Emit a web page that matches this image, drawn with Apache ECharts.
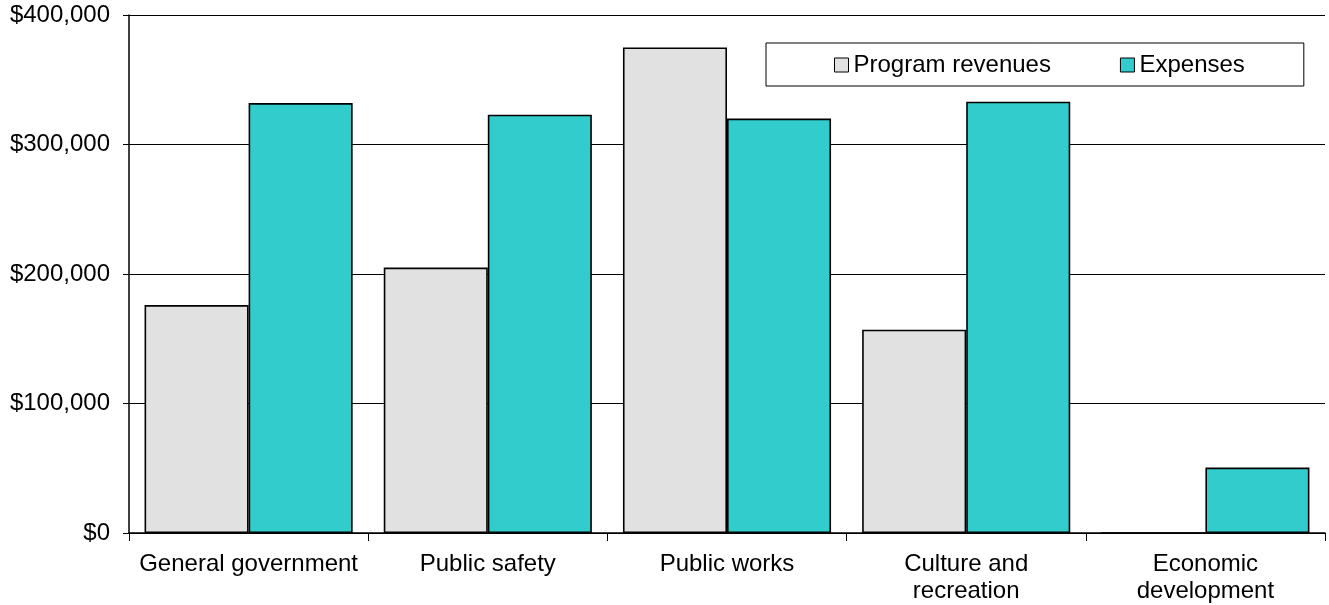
<!DOCTYPE html>
<html>
<head>
<meta charset="utf-8">
<script src="https://cdn.jsdelivr.net/npm/echarts@6/dist/echarts.min.js"></script>
<style>
  html, body { margin: 0; padding: 0; background: #fff; }
  #main { width: 1329px; height: 605px; }
</style>
</head>
<body>
<div id="main"></div>
<script>
const categories = ['General government', 'Public safety', 'Public works', 'Culture and\nrecreation', 'Economic\ndevelopment'];
const programRevenues = [176000, 205000, 375000, 157000, 0];
const expenses = [332000, 323000, 320000, 333000, 50500];
const yTicks = [0, 100000, 200000, 300000, 400000];

const FONT = 'Liberation Sans, Arial, sans-serif';

const chart = echarts.init(document.getElementById('main'));

var option = {
  backgroundColor: '#fff',
  animation: false,
  grid: { left: 129, right: 4, top: 15, bottom: 72 },
  legend: {
    left: 766,
    top: 43,
    padding: [10, 59, 9, 68],
    backgroundColor: '#fff',
    borderColor: '#000',
    borderWidth: 1,
    icon: 'rect',
    itemWidth: 14,
    itemHeight: 14,
    itemGap: 69,
    textStyle: { fontFamily: FONT, fontSize: 24, color: '#000' },
    itemStyle: { borderColor: '#000', borderWidth: 1 },
    data: ['Program revenues', 'Expenses']
  },
  xAxis: {
    type: 'category',
    data: categories,
    axisLine: { lineStyle: { color: '#000', width: 1.5 } },
    axisTick: { show: true, length: 8, lineStyle: { color: '#000' } },
    axisLabel: {
      fontFamily: FONT, fontSize: 24, color: '#000',
      margin: 18, lineHeight: 27, interval: 0
    }
  },
  yAxis: {
    type: 'value',
    min: yTicks[0],
    max: yTicks[yTicks.length - 1],
    interval: 100000,
    axisLine: { show: true, lineStyle: { color: '#000', width: 1.5 } },
    axisTick: { show: true, length: 6, lineStyle: { color: '#000' } },
    splitLine: { show: true, lineStyle: { color: '#000', width: 1 } },
    axisLabel: {
      fontFamily: FONT, fontSize: 24, color: '#000', margin: 19,
      formatter: function (v) { return '$' + v.toLocaleString('en-US'); }
    }
  },
  series: [
    {
      name: 'Program revenues',
      type: 'bar',
      data: programRevenues,
      barGap: '0%',
      barCategoryGap: '13%',
      itemStyle: { color: '#e1e1e1', borderColor: '#000', borderWidth: 1.6 }
    },
    {
      name: 'Expenses',
      type: 'bar',
      data: expenses,
      itemStyle: { color: '#33cccc', borderColor: '#000', borderWidth: 1.6 }
    }
  ]
};

chart.setOption(option);
</script>
</body>
</html>
